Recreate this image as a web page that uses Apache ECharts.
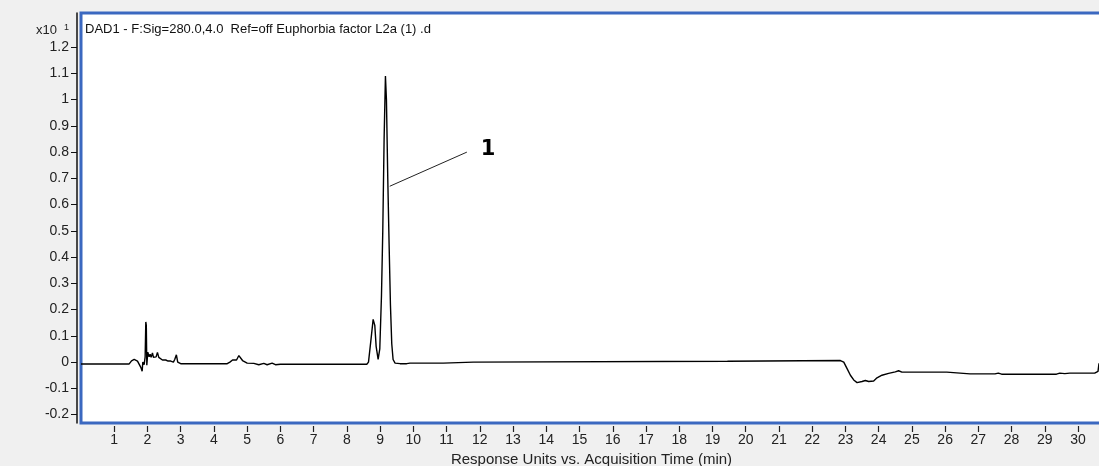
<!DOCTYPE html>
<html>
<head>
<meta charset="utf-8">
<script src="https://cdn.jsdelivr.net/npm/echarts@6/dist/echarts.min.js"></script>
<style>
html,body{margin:0;padding:0;background:#f0f0f0;}
#c{width:1099px;height:466px;}
</style>
</head>
<body>
<div id="c"></div>
<script>
// Acquisition time (min)
var times = [
  0.0, 0.34, 0.36, 0.38, 1.45, 1.52, 1.6, 1.66, 1.7, 1.75, 1.8, 1.84, 1.86, 1.9, 1.93, 1.95, 1.965, 1.98,
  2.01, 2.05, 2.08, 2.11, 2.15, 2.18, 2.22, 2.26, 2.3, 2.34, 2.4, 2.45, 2.55, 2.62, 2.7, 2.74, 2.78, 2.82,
  2.87, 2.91, 3.0, 3.45, 3.48, 3.52, 4.4, 4.48, 4.56, 4.62, 4.68, 4.75, 4.8, 4.86, 4.92, 5.0, 5.05, 5.2,
  5.35, 5.5, 5.6, 5.75, 5.85, 6.0, 8.45, 8.5, 8.6, 8.65, 8.72, 8.79, 8.84, 8.88, 8.94, 8.99, 9.04, 9.08,
  9.12, 9.16, 9.19, 9.23, 9.27, 9.31, 9.35, 9.39, 9.45, 9.6, 9.8, 9.84, 9.9, 10.9, 10.95, 11.8, 11.85,
  19.45, 19.5, 22.85, 22.95, 23.05, 23.15, 23.25, 23.35, 23.5, 23.6, 23.7, 23.85, 23.95, 24.1, 24.3, 24.5,
  24.6, 24.65, 24.7, 26.05, 26.1, 26.75, 26.8, 26.9, 27.5, 27.6, 27.7, 29.35, 29.45, 29.6, 29.75, 30.5,
  30.6, 30.63, 30.66, 30.7
];
// Response (x10^1)
var response = [
  -0.007, -0.007, -0.003, -0.007, -0.007, 0.005, 0.01, 0.01, 0.004, 0.006, -0.02, -0.035, 0.0, -0.01, 0.02, 0.153, 0.14, -0.012,
  0.038, 0.02, 0.03, 0.018, 0.035, 0.018, 0.025, 0.02, 0.037, 0.018, 0.012, 0.008, 0.008, 0.004, 0.004, 0.01, 0.0, 0.01,
  0.028, 0.0, -0.006, -0.006, -0.012, -0.006, -0.006, 0.0, 0.008, 0.002, 0.008, 0.025, 0.022, 0.006, 0.0, -0.004, -0.01, -0.005,
  -0.01, -0.005, -0.01, -0.004, -0.01, -0.008, -0.008, -0.015, -0.008, 0.0, 0.08, 0.163, 0.14, 0.06, 0.01, 0.05, 0.25, 0.5,
  0.85, 1.09, 1.0, 0.7, 0.45, 0.22, 0.07, 0.01, -0.004, -0.006, -0.006, -0.012, -0.004, -0.004, 0.0, 0.0, 0.003,
  0.003, 0.006, 0.006, 0.0, -0.025, -0.05, -0.068, -0.078, -0.074, -0.07, -0.074, -0.072, -0.06, -0.05, -0.043, -0.037,
  -0.033, -0.028, -0.038, -0.038, -0.045, -0.045, -0.04, -0.045, -0.045, -0.042, -0.046, -0.046, -0.042, -0.044, -0.042, -0.042,
  -0.035, -0.005, -0.03, -0.04
];
var xTickValues = [1,2,3,4,5,6,7,8,9,10,11,12,13,14,15,16,17,18,19,20,21,22,23,24,25,26,27,28,29,30];
var yTickValues = [-0.2,-0.1,0,0.1,0.2,0.3,0.4,0.5,0.6,0.7,0.8,0.9,1.0,1.1,1.2];
var peakLabel = '1';
var leaderFrom = [9.29, 0.67];
var leaderTo = [11.61, 0.80];
var labelAt = [12.25, 0.808];

var seriesData = times.map(function(t, i){ return [t, response[i]]; });

var font = '"Liberation Sans", Arial, sans-serif';
var chart = echarts.init(document.getElementById('c'), null, {renderer:'canvas'});
chart.setOption({
  backgroundColor: '#f0f0f0',
  animation: false,
  grid: {left: 81, right: -3, top: 13, bottom: 43, show: true, backgroundColor: '#ffffff',
         borderColor: '#3b68c0', borderWidth: 3, outerBoundsMode: 'none', containLabel: false},
  graphic: [
    {type:'text', left: 36, top: 24, style:{text:'x10', font:'13px ' + font, fill:'#222'}},
    {type:'text', left: 64, top: 23, style:{text:'1', font:'9px ' + font, fill:'#222'}},
    {type:'text', left: 85, top: 23, style:{text:'DAD1 - F:Sig=280.0,4.0  Ref=off Euphorbia factor L2a (1) .d', font:'13px ' + font, fill:'#111'}}
  ],
  xAxis: {
    type: 'value', min: 0, max: 30.72,
    name: 'Response Units vs. Acquisition Time (min)', nameLocation: 'middle', nameGap: 26,
    nameTextStyle: {fontFamily: font, fontSize: 15, color: '#222'},
    axisLine: {show: false, onZero: false},
    offset: 3,
    axisTick: {show: true, length: 6, customValues: xTickValues, lineStyle:{color:'#222', width:1.2}},
    axisLabel: {customValues: xTickValues, fontFamily: font, fontSize: 14, color: '#222', margin: 7},
    splitLine: {show: false}
  },
  yAxis: {
    type: 'value', min: -0.232, max: 1.33,
    offset: 4,
    axisLine: {show: true, onZero: false, lineStyle:{color:'#111', width: 1.5}},
    axisTick: {show: true, length: 6, customValues: yTickValues, lineStyle:{color:'#111', width:1}},
    axisLabel: {customValues: yTickValues, fontFamily: font, fontSize: 14, color: '#222', margin: 8,
      formatter: function(v){ return String(Math.round(v*10)/10); }},
    splitLine: {show: false}
  },
  series: [{
    type: 'line', data: seriesData, showSymbol: false, symbol: 'none',
    lineStyle: {color: '#000', width: 1.4}, clip: true,
    markLine: {
      silent: true, symbol: ['none','none'], animation: false,
      lineStyle: {color: '#222', width: 1, type: 'solid'},
      label: {show: false},
      data: [[{coord: leaderFrom}, {coord: leaderTo}]]
    },
    markPoint: {
      silent: true, symbol: 'circle', symbolSize: 1, itemStyle:{color:'rgba(0,0,0,0)'},
      label: {show: true, position: 'inside', formatter: peakLabel, fontFamily: '"DejaVu Sans", Verdana, sans-serif',
              fontWeight: 'bold', fontSize: 21, color: '#000'},
      data: [{coord: labelAt}]
    }
  }]
});
</script>
</body>
</html>
